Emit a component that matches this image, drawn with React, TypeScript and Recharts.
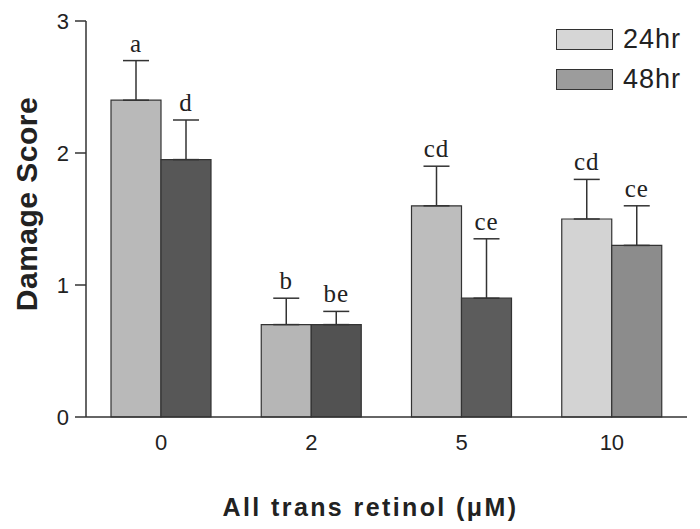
import React from 'react';
import {
  BarChart,
  Bar,
  XAxis,
  YAxis,
  ErrorBar,
  Cell,
  LabelList,
} from 'recharts';

const doses = ['0', '2', '5', '10'];
const mean24 = [2.4, 0.7, 1.6, 1.5];
const sd24 = [0.3, 0.2, 0.3, 0.3];
const mean48 = [1.95, 0.7, 0.9, 1.3];
const sd48 = [0.3, 0.1, 0.45, 0.3];
const letters24 = ['a', 'b', 'cd', 'cd'];
const letters48 = ['d', 'be', 'ce', 'ce'];
const fill24 = ['#b9b9b9', '#b6b6b6', '#bdbdbd', '#d3d3d3'];
const fill48 = ['#575757', '#525252', '#5c5c5c', '#8c8c8c'];
const seriesNames = ['24hr', '48hr'];
const legendFills = ['#d6d6d6', '#9c9c9c'];
const yTicks = [0, 1, 2, 3];

const data = doses.map((d, i) => ({
  dose: d,
  h24: mean24[i],
  h48: mean48[i],
  e24: [0, sd24[i]],
  e48: [0, sd48[i]],
  l24: letters24[i],
  l48: letters48[i],
}));

const SANS = "'Liberation Sans', Arial, sans-serif";
const SERIF = "'Liberation Serif', 'Times New Roman', serif";
const INK = '#333';

const letterContent = (means: number[], sds: number[]) => (props: any) => {
  const { x, y, width, height, index, value } = props;
  const perUnit = height / means[index];
  const top = y - sds[index] * perUnit;
  return (
    <text
      x={x + width / 2}
      y={top - 9}
      textAnchor="middle"
      fontFamily={SERIF}
      fontSize={25}
      letterSpacing={1}
      fill="#222"
    >
      {value}
    </text>
  );
};

function LegendBox() {
  return (
    <div style={{ position: 'absolute', left: 556, top: 29, fontFamily: SANS }}>
      {seriesNames.map((n, i) => (
        <div key={n} style={{ display: 'flex', alignItems: 'center', height: 21, marginBottom: 19 }}>
          <div
            style={{
              width: 55,
              height: 19,
              background: legendFills[i],
              border: `1.5px solid ${INK}`,
              marginRight: 10,
            }}
          />
          <span style={{ fontSize: 27, color: '#222', letterSpacing: 1 }}>{n}</span>
        </div>
      ))}
    </div>
  );
}

export default function App() {
  return (
    <div style={{ position: 'absolute', left: 0, top: 0, width: 700, height: 529, background: '#fff' }}>
      <BarChart
        width={700}
        height={529}
        data={data}
        margin={{ top: 21, right: 13, bottom: 82, left: 0 }}
        barCategoryGap={25}
        barGap={0}
      >
        <XAxis
          dataKey="dose"
          height={30}
          tickLine={false}
          axisLine={{ stroke: INK, strokeWidth: 1.5 }}
          tick={{ fill: '#222', fontSize: 22, fontFamily: SANS }}
          tickMargin={11}
          label={(props: any) => {
            const vb = props.viewBox;
            return (
              <text
                x={vb.x + vb.width / 2 - 16}
                y={507}
                textAnchor="middle"
                dominantBaseline="central"
                fontFamily={SANS}
                fontWeight="bold"
                fontSize={25}
                letterSpacing={2.4}
                fill="#222"
              >
                All trans retinol (μM)
              </text>
            );
          }}
        />
        <YAxis
          width={86}
          domain={[0, 3]}
          ticks={yTicks}
          tickSize={11}
          tickMargin={6}
          tickLine={{ stroke: INK, strokeWidth: 1.5 }}
          axisLine={{ stroke: INK, strokeWidth: 1.5 }}
          tick={{ fill: '#222', fontSize: 22, fontFamily: SANS }}
          label={() => {
            const cx = 26;
            const cy = 204;
            return (
              <text
                x={cx}
                y={cy}
                transform={`rotate(-90, ${cx}, ${cy})`}
                textAnchor="middle"
                dominantBaseline="central"
                fontFamily={SANS}
                fontWeight="bold"
                fontSize={30}
                letterSpacing={0.5}
                fill="#222"
              >
                Damage Score
              </text>
            );
          }}
        />
        <Bar dataKey="h24" name={seriesNames[0]} fill={legendFills[0]} stroke={INK} strokeWidth={1.2} isAnimationActive={false}>
          {data.map((_, i) => (
            <Cell key={i} fill={fill24[i]} />
          ))}
          <ErrorBar dataKey="e24" width={13} stroke={INK} strokeWidth={1.5} />
          <LabelList dataKey="l24" content={letterContent(mean24, sd24)} />
        </Bar>
        <Bar dataKey="h48" name={seriesNames[1]} fill={legendFills[1]} stroke={INK} strokeWidth={1.2} isAnimationActive={false}>
          {data.map((_, i) => (
            <Cell key={i} fill={fill48[i]} />
          ))}
          <ErrorBar dataKey="e48" width={13} stroke={INK} strokeWidth={1.5} />
          <LabelList dataKey="l48" content={letterContent(mean48, sd48)} />
        </Bar>
      </BarChart>
      <LegendBox />
    </div>
  );
}
